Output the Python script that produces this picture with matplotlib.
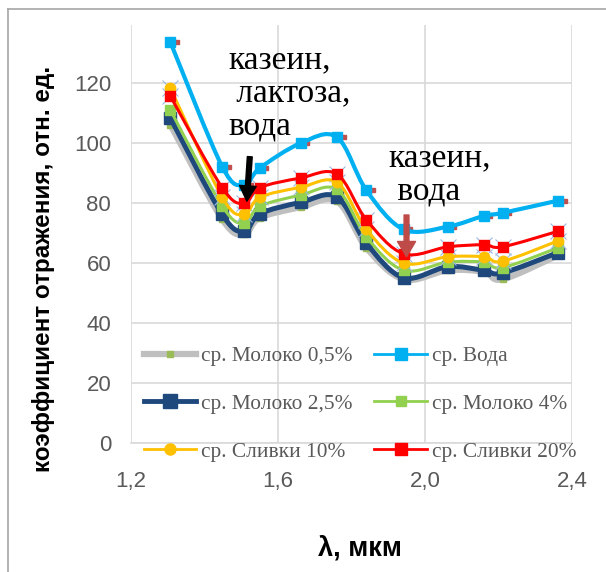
import numpy as np
import matplotlib.pyplot as plt
from matplotlib.path import Path
from matplotlib.patches import PathPatch
from matplotlib.lines import Line2D
from matplotlib.ticker import FuncFormatter

# wavelengths, um
wl = [1.308, 1.449, 1.509, 1.551, 1.662, 1.761, 1.841, 1.942, 2.062, 2.160, 2.211, 2.362]

milk_05 = [106.0, 74.5, 69.5, 75.0, 78.5, 80.5, 65.0, 54.5, 57.5, 57.0, 54.5, 62.5]
water = [133.5, 92.0, 86.0, 91.5, 99.8, 101.8, 84.1, 71.1, 72.0, 75.6, 76.6, 80.7]
milk_25 = [108.2, 76.1, 70.5, 76.3, 80.1, 81.9, 66.5, 55.0, 58.7, 57.5, 56.6, 63.4]
milk_4 = [110.9, 78.9, 73.2, 78.8, 82.5, 84.4, 68.6, 57.5, 60.2, 60.2, 58.4, 65.0]
cream_10 = [118.2, 81.8, 76.1, 81.8, 85.1, 86.8, 71.1, 59.9, 62.0, 62.0, 60.5, 67.3]
cream_20 = [115.5, 85.0, 79.8, 85.0, 88.2, 89.5, 74.3, 63.0, 65.3, 66.0, 65.3, 70.5]

labels = ["ср. Молоко 0,5%", "ср. Вода", "ср. Молоко 2,5%",
          "ср. Молоко 4%", "ср. Сливки 10%", "ср. Сливки 20%"]

SERIF = "Liberation Serif"
SANS = "Liberation Sans"


def smooth_path(xs, ys):
    # excel-like smoothed line (catmull-rom as cubic bezier)
    p = np.column_stack([xs, ys])
    pts = np.vstack([p[0], p, p[-1]])
    verts = [p[0]]
    codes = [Path.MOVETO]
    for i in range(1, len(pts) - 2):
        c1 = pts[i] + (pts[i + 1] - pts[i - 1]) / 6
        c2 = pts[i + 1] - (pts[i + 2] - pts[i]) / 6
        verts += [c1, c2, pts[i + 1]]
        codes += [Path.CURVE4] * 3
    return Path(verts, codes)


def draw_line(ax, ys, color, lw, z):
    patch = PathPatch(smooth_path(wl, ys), facecolor="none", edgecolor=color,
                      lw=lw, joinstyle="round", capstyle="round", zorder=z)
    ax.add_patch(patch)


fig = plt.figure(figsize=(6.06, 5.72), dpi=100)
ax = fig.add_axes([0.2155, 0.2255, 0.7285, 0.73])

# series: (values, line colour, lw, marker, marker colour, ms, zorder)
series = [
    (milk_05, "#bfbfbf", 4.5, "s", "#9bbb59", 4, 2),
    (milk_25, "#1f497d", 3.6, "s", "#1f497d", 9, 3),
    (milk_4, "#92d050", 2.2, "s", "#92d050", 7, 4),
    (cream_10, "#ffc000", 2.2, "o", "#ffc000", 7.5, 5),
    (cream_20, "#ff0000", 2.2, "s", "#ff0000", 7, 6),
    (water, "#00b0f0", 3.0, "s", "#00b0f0", 7.5, 7),
]

for ys, c, lw, m, mc, ms, z in series:
    draw_line(ax, ys, c, lw, z)
    ax.plot(wl, ys, ls="none", marker=m, color=mc, ms=ms, zorder=z + 0.5)

# faint error-cap crosses and small dark markers as in the source
for ys in (cream_20, cream_10):
    ax.plot(wl, ys, ls="none", marker="x", color="#9db9e0", ms=11, mew=0.8, zorder=4.8)
ax.plot(np.array(wl) + 0.018, water, ls="none", marker="s", color="#c0504d", ms=3.5, zorder=6.8)

ax.set_xlim(1.2, 2.4)
ax.set_ylim(0, 139)
ax.set_xticks([1.2, 1.6, 2.0, 2.4])
ax.set_yticks(range(0, 121, 20))
ax.xaxis.set_major_formatter(FuncFormatter(lambda v, p: f"{v:.1f}".replace(".", ",")))
ax.grid(True, color="#d9d9d9", lw=1.2)
ax.set_axisbelow(True)
for s in ["top", "right", "left"]:
    ax.spines[s].set_visible(False)
ax.spines["bottom"].set_color("#d9d9d9")
ax.spines["bottom"].set_linewidth(1.2)
ax.tick_params(length=0, labelsize=16, labelcolor="#595959")
ax.tick_params(axis="x", pad=20)
ax.tick_params(axis="y", pad=14)
for t in ax.get_xticklabels() + ax.get_yticklabels():
    t.set_fontfamily(SANS)

fig.text(0.071, 0.530, "коэффициент отражения, отн. ед.", fontsize=17.5,
         fontweight="bold", family=SANS, rotation=90, ha="center", va="center")
fig.text(0.594, 0.028, "λ, мкм", fontsize=19.5, fontweight="bold", family=SANS,
         ha="center", va="baseline")

# annotations
ax.text(1.465, 116.5, "казеин,\n лактоза,\nвода", fontsize=24, family=SERIF,
        ha="left", va="center", linespacing=1.12, zorder=10)
ax.annotate("", xy=(1.516, 80.5), xytext=(1.524, 95.3),
            arrowprops=dict(width=3.5, headwidth=12, headlength=11,
                            facecolor="black", edgecolor="black"), zorder=10)
ax.text(1.902, 89.2, "казеин,\n вода", fontsize=24, family=SERIF,
        ha="left", va="center", linespacing=1.12, zorder=10)
ax.annotate("", xy=(1.950, 62.0), xytext=(1.950, 75.9),
            arrowprops=dict(width=3.5, headwidth=13, headlength=11,
                            facecolor="#be4b48", edgecolor="#be4b48"), zorder=10)

# legend
h = [
    Line2D([], [], color="#bfbfbf", lw=4.5, marker="s", mfc="#9bbb59", mec="#9bbb59", ms=5),
    Line2D([], [], color="#1f497d", lw=3.5, marker="s", ms=10),
    Line2D([], [], color="#ffc000", lw=2, marker="o", ms=8),
    Line2D([], [], color="#00b0f0", lw=2, marker="s", ms=8),
    Line2D([], [], color="#92d050", lw=2, marker="s", ms=7),
    Line2D([], [], color="#ff0000", lw=2, marker="s", ms=8),
]
lab = [labels[0], labels[2], labels[4], labels[1], labels[3], labels[5]]
leg = ax.legend(h, lab, ncol=2, loc="upper left", bbox_to_anchor=(0.030, 0.232),
                frameon=False, borderaxespad=0, borderpad=0, handlelength=2.46,
                handletextpad=0.23, columnspacing=1.0, labelspacing=1.3,
                prop={"family": SERIF, "size": 15.4})
for t in leg.get_texts():
    t.set_color("#595959")
leg.set_zorder(12)

# outer frame of the chart area
fig.add_artist(Line2D([0.0125, 0.0125], [0, 0.984], color="#a6a6a6", lw=1.2,
                      transform=fig.transFigure))
fig.add_artist(Line2D([0.0125, 1.0], [0.984, 0.984], color="#a6a6a6", lw=1.2,
                      transform=fig.transFigure))

fig.savefig("out.png", dpi=100)
